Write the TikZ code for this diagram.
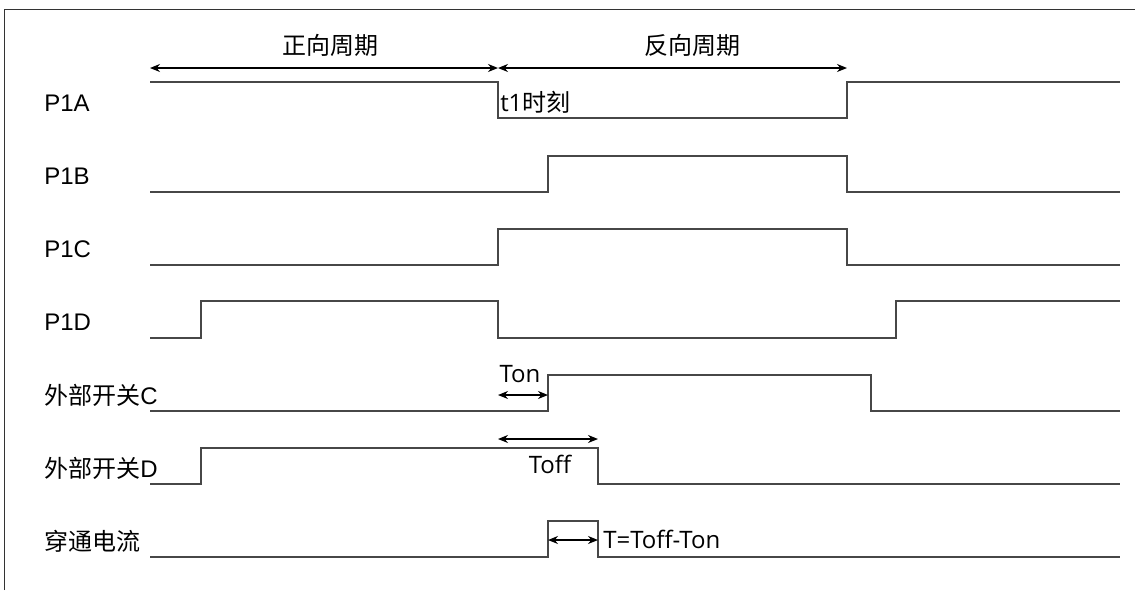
\documentclass[tikz,border=0pt]{standalone}
\usepackage{fontspec}
\setmainfont{Liberation Sans}
\newfontfamily\cjk{Noto Sans CJK SC}
\newfontfamily\note{Open Sans}
\newcommand\zh[1]{{\cjk #1}}
\usetikzlibrary{arrows.meta}

\begin{document}
\begin{tikzpicture}[
  x=0.75pt, y=-0.75pt,
  font=\fontsize{18}{21}\selectfont,
  wave/.style={draw=black!72, line width=1pt},
  span/.style={<->, line width=1pt},
  lbl/.style={anchor=west, inner sep=0pt},
  ann/.style={inner sep=0pt, font=\fontsize{18}{21}\selectfont\note},
  >={Stealth[length=7.5pt, width=6pt]}
]
\useasboundingbox (0,0) rectangle (1135,590);
\draw[black!80, line width=0.75pt] (4,590) -- (4,9) -- (1135,9);

% signal names
\foreach \n/\y [count=\i] in {P1A/103, P1B/176, P1C/249, P1D/322,
    \zh{外部开关}C/395, \zh{外部开关}D/468, \zh{穿通电流}/541}
  \node[lbl] (sig\i) at (44,\y) {\n};

% waveforms
\draw[wave] (150,82) -- (498,82) -- (498,118) -- (847,118) -- (847,82) -- (1120,82);
\draw[wave] (150,192) -- (548,192) -- (548,156) -- (847,156) -- (847,192) -- (1120,192);
\draw[wave] (150,265) -- (498,265) -- (498,229) -- (847,229) -- (847,265) -- (1120,265);
\draw[wave] (150,338) -- (201,338) -- (201,301) -- (498,301) -- (498,338) -- (896,338) -- (896,301) -- (1120,301);
\draw[wave] (150,411) -- (548,411) -- (548,375) -- (871,375) -- (871,411) -- (1120,411);
\draw[wave] (150,484) -- (201,484) -- (201,448) -- (598,448) -- (598,484) -- (1120,484);
\draw[wave] (150,557) -- (548,557) -- (548,521) -- (598,521) -- (598,557) -- (1120,557);

% periods
\coordinate (p0) at (150,68);
\coordinate (p1) at (498,68);
\coordinate (p2) at (847,68);
\node (fwd) at (330,45) {\zh{正向周期}};
\node (rev) at (692,45) {\zh{反向周期}};
\draw[span] (p0) -- (p1);
\draw[span] (p1) -- (p2);
\node[ann, anchor=west] (t1) at (500,102) {t1\zh{时刻}};

% delays
\coordinate (on0) at (498,395);
\coordinate (on1) at (548,395);
\coordinate (off0) at (498,439);
\coordinate (off1) at (598,439);
\coordinate (d0) at (548,540);
\coordinate (d1) at (598,540);
\draw[span] (on0) -- (on1);
\draw[span] (off0) -- (off1);
\draw[span] (d0) -- (d1);
\node[ann] (ton) at (520,374) {Ton};
\node[ann] (toff) at (550,464) {Toff};
\node[ann, anchor=west] (tdiff) at (603,539) {T=Toff-Ton};
\end{tikzpicture}
\end{document}
